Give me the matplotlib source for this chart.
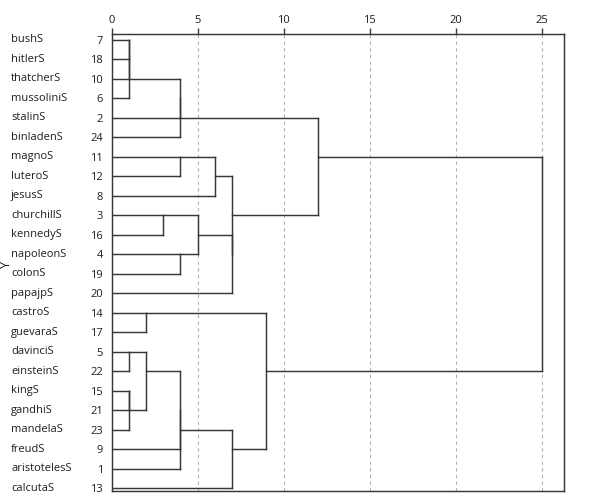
import matplotlib
matplotlib.use("Agg")
import matplotlib.pyplot as plt
import matplotlib.transforms as mtransforms

plt.rcParams['font.family'] = ['Open Sans', 'DejaVu Sans']

# leaves in display order (top to bottom)
names = ['bushS', 'hitlerS', 'thatcherS', 'mussoliniS', 'stalinS', 'binladenS',
         'magnoS', 'luteroS', 'jesusS', 'churchillS', 'kennedyS', 'napoleonS',
         'colonS', 'papajpS', 'castroS', 'guevaraS', 'davinciS', 'einsteinS',
         'kingS', 'gandhiS', 'mandelaS', 'freudS', 'aristotelesS', 'calcutaS']
case_ids = [7, 18, 10, 6, 2, 24, 11, 12, 8, 3, 16, 4,
            19, 20, 14, 17, 5, 22, 15, 21, 23, 9, 1, 13]

# agglomeration schedule: (cluster a, cluster b, rescaled distance)
# ids 0..23 are the leaves above, every merge gets the next id (24, 25, ...)
merge_a = [0, 24, 25, 16, 18, 28, 14, 27, 9, 26, 33, 6,
           11, 31, 37, 32, 35, 39, 40, 38, 30, 34, 45]
merge_b = [1, 2, 3, 17, 19, 20, 15, 29, 10, 4, 5, 7,
           12, 21, 22, 36, 8, 13, 41, 23, 43, 42, 44]
merge_h = [1, 1, 1, 1, 1, 1, 2, 2, 3, 4, 4, 4,
           4, 4, 4, 5, 6, 7, 7, 7, 9, 12, 25]

line_col = '#383838'
text_col = '#1e1e1e'
fsize = 8

fig = plt.figure(figsize=(5.89, 5.03), dpi=100)
ax = fig.add_axes([0.1896, 0.0245, 0.768, 0.9074])

# row / height of every node, SPSS style: parent sits at the lower middle row
row = {i: float(i) for i in range(len(names))}
height = {i: 0.0 for i in range(len(names))}
for k, (a, b, h) in enumerate(zip(merge_a, merge_b, merge_h)):
    node = len(names) + k
    for c in (a, b):
        ax.plot([height[c], h], [row[c], row[c]], color=line_col, lw=1.05,
                solid_capstyle='projecting', zorder=3)
    ax.plot([h, h], [row[a], row[b]], color=line_col, lw=1.05,
            solid_capstyle='projecting', zorder=3)
    row[node] = float(int((row[a] + row[b]) / 2))
    height[node] = h

ax.set_xlim(0, 26.3)
ax.set_ylim(23.12, -0.29)

xticks = [0, 5, 10, 15, 20, 25]
ax.xaxis.tick_top()
ax.set_xticks(xticks)
ax.set_xticklabels([str(t) for t in xticks])
ax.tick_params(axis='x', length=4.5, width=1.0, pad=1.5, labelsize=fsize,
               color=line_col, labelcolor=text_col)
for t in xticks[1:]:
    ax.axvline(t, color='#b0b0b0', lw=0.8, ls=(0, (3, 3)), zorder=1)

ax.set_yticks(range(len(names)))
ax.set_yticklabels([str(c) for c in case_ids])
ax.tick_params(axis='y', length=0, pad=6.3, labelsize=fsize, labelcolor=text_col)

for s in ax.spines.values():
    s.set_color(line_col)
    s.set_linewidth(1.05)

trans = mtransforms.blended_transform_factory(fig.transFigure, ax.transData)
for i, n in enumerate(names):
    ax.text(11 / 589, i, n, transform=trans, ha='left', va='center',
            fontsize=fsize, color=text_col)
ax.text(6 / 589, 11.5, 'Y', transform=trans, ha='center', va='center',
        rotation=90, fontsize=9, color=text_col)

fig.savefig('out.png', dpi=100)
